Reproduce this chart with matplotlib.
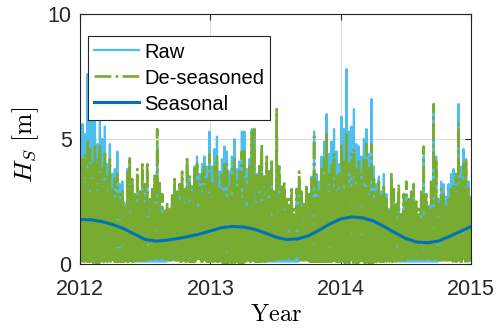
import numpy as np
import matplotlib
matplotlib.use("Agg")
import matplotlib.pyplot as plt

# weekly peak wave heights [m] (2012-2015)
raw_peak = [4.0, 5.6, 5.2, 7.6, 6.5, 5.8, 6.0, 4.8, 6.2, 5.0,
            5.5, 4.0, 4.8, 3.6, 3.8, 4.5, 3.2, 3.3, 2.4, 3.8,
            4.2, 3.2, 2.7, 3.5, 2.7, 3.7, 2.8, 3.6, 2.2, 2.6,
            3.1, 4.9, 2.8, 2.3, 1.8, 2.0, 1.6, 2.4, 3.0, 2.6,
            2.9, 3.4, 2.8, 4.1, 3.4, 3.1, 3.9, 4.3, 3.6, 4.0,
            4.3, 3.9, 5.3, 3.9, 4.6, 5.1, 3.7, 4.2, 4.7, 4.5,
            3.7, 4.3, 5.0, 3.8, 4.1, 5.3, 5.3, 3.8, 4.2, 5.4,
            5.4, 3.6, 3.9, 4.6, 3.3, 4.0, 3.5, 3.9, 2.7, 5.8,
            3.6, 2.7, 2.8, 2.1, 2.1, 2.5, 1.7, 2.5, 3.3, 2.6,
            2.2, 3.0, 2.7, 3.5, 5.3, 3.6, 3.3, 4.3, 4.9, 6.0,
            4.4, 4.9, 5.4, 4.5, 4.0, 5.9, 5.4, 7.8, 5.3, 5.5,
            6.2, 4.8, 4.7, 4.3, 5.0, 5.4, 4.4, 6.6, 3.9, 3.2,
            3.5, 2.9, 3.6, 2.8, 2.2, 3.4, 2.7, 2.0, 2.8, 1.6,
            2.3, 2.8, 2.1, 2.4, 2.7, 2.0, 1.7, 2.6, 4.3, 2.5,
            2.2, 3.3, 6.3, 4.3, 2.6, 3.3, 3.2, 2.7, 3.2, 3.6,
            3.8, 3.3, 6.4, 3.9, 4.6, 4.2, 3.3]

des_peak = [3.5, 4.2, 4.4, 5.0, 4.6, 4.0, 4.7, 4.2, 4.8, 3.8,
            4.5, 3.5, 4.2, 3.0, 3.4, 3.6, 2.8, 3.0, 2.2, 3.7,
            4.3, 3.4, 2.9, 3.8, 3.0, 4.1, 3.2, 4.1, 2.6, 3.0,
            3.6, 5.4, 3.3, 2.8, 2.2, 2.4, 2.0, 2.8, 3.4, 2.9,
            3.2, 3.7, 3.0, 4.3, 3.5, 3.1, 3.8, 4.0, 3.3, 3.6,
            3.9, 3.4, 4.4, 3.2, 3.9, 4.3, 3.0, 3.6, 4.1, 4.0,
            3.2, 3.8, 4.2, 3.3, 3.7, 4.5, 4.6, 3.4, 3.9, 5.3,
            5.4, 3.6, 4.0, 4.8, 3.5, 4.3, 3.8, 4.2, 3.0, 6.2,
            4.0, 3.1, 3.3, 2.6, 2.6, 3.0, 2.2, 3.0, 3.7, 2.9,
            2.4, 3.2, 2.8, 3.4, 5.1, 3.3, 2.9, 3.8, 4.2, 5.2,
            3.6, 4.0, 4.4, 3.5, 3.6, 4.8, 4.2, 5.2, 4.0, 4.4,
            4.6, 3.8, 4.1, 3.6, 4.3, 4.8, 3.9, 4.8, 3.4, 3.0,
            3.3, 2.8, 3.1, 2.6, 2.2, 3.6, 3.0, 2.4, 3.2, 2.0,
            2.8, 3.3, 2.6, 2.9, 3.2, 2.5, 2.2, 3.0, 4.7, 2.8,
            2.4, 3.4, 6.4, 4.2, 2.4, 3.0, 2.8, 2.2, 2.6, 3.0,
            3.2, 3.6, 5.6, 3.4, 4.0, 4.2, 3.1]

# monthly typical upper level of the dense body [m]
raw_body = [3.2, 3.2, 2.9, 2.5, 2.0, 1.6, 1.4, 1.5, 1.8, 2.1, 2.3, 2.5,
            2.8, 2.9, 2.8, 2.4, 2.0, 1.7, 1.4, 1.5, 1.8, 2.2, 2.7, 3.1,
            3.4, 3.4, 3.2, 2.7, 2.1, 1.6, 1.3, 1.3, 1.5, 1.9, 2.4, 2.7]
des_body = [2.8, 2.8, 2.6, 2.3, 2.0, 1.9, 1.9, 2.0, 2.2, 2.4, 2.5, 2.6,
            2.7, 2.7, 2.6, 2.3, 2.0, 1.9, 1.8, 1.9, 2.2, 2.5, 2.7, 2.8,
            2.9, 2.8, 2.7, 2.4, 2.0, 1.8, 1.8, 1.8, 2.0, 2.3, 2.6, 2.7]

# monthly minima [m]
raw_min = [0.2, 0.2, 0.2, 0.15, 0.15, 0.1, 0.1, 0.1, 0.15, 0.15, 0.2, 0.2,
           0.2, 0.2, 0.2, 0.15, 0.1, 0.1, 0.1, 0.1, 0.15, 0.2, 0.2, 0.2,
           0.2, 0.2, 0.2, 0.15, 0.15, 0.1, 0.1, 0.1, 0.1, 0.15, 0.15, 0.2]
des_min = [0.1, 0.05, 0.1, 0.1, 0.1, 0.15, 0.2, 0.2, 0.15, 0.1, 0.1, 0.1,
           0.1, 0.05, 0.05, 0.1, 0.1, 0.15, 0.2, 0.2, 0.15, 0.1, 0.1, 0.1,
           0.05, 0.05, 0.05, 0.1, 0.1, 0.15, 0.2, 0.2, 0.2, 0.15, 0.1, 0.1]

# seasonal component, monthly
seasonal = [1.78, 1.77, 1.70, 1.58, 1.42, 1.20, 0.98, 0.92, 0.95, 1.02, 1.10, 1.20,
            1.32, 1.45, 1.50, 1.48, 1.40, 1.25, 1.08, 0.98, 1.00, 1.12, 1.35, 1.60,
            1.80, 1.88, 1.85, 1.72, 1.50, 1.25, 1.02, 0.88, 0.85, 0.92, 1.10, 1.30,
            1.50]


def zigzag(peaks, body, mins):
    """peak / trough / body / trough per week so it looks like the dense record"""
    n = len(peaks)
    wk = 3.0 / n
    xs, ys = [], []
    for i, p in enumerate(peaks):
        mo = min(int(i * 36 / n), 35)
        for k, v in enumerate([p, mins[mo], body[mo], mins[mo]]):
            xs.append(2012 + (i + 0.25 * k) * wk)
            ys.append(v)
    return np.array(xs), np.array(ys)


x_raw, y_raw = zigzag(raw_peak, raw_body, raw_min)
x_des, y_des = zigzag(des_peak, des_body, des_min)
x_sea = 2012 + np.arange(len(seasonal)) / 12.0

plt.rcParams['font.family'] = ['Liberation Sans', 'DejaVu Sans']
plt.rcParams['mathtext.fontset'] = 'cm'

fig = plt.figure(figsize=(4.98, 3.32), dpi=100)
ax = fig.add_axes([0.1606, 0.2048, 0.7852, 0.753])

ax.plot(x_raw, y_raw, color='#4DBEEE', lw=1.6, label='Raw')
ax.plot(x_des, y_des, color='#77AC30', lw=1.9, ls='-.', label='De-seasoned')
ax.plot(x_sea, seasonal, color='#0072BD', lw=2.2, label='Seasonal')

ax.set_xlim(2012, 2015)
ax.set_ylim(0, 10)
ax.set_xticks([2012, 2013, 2014, 2015])
ax.set_yticks([0, 5, 10])
ax.grid(True, color='#dcdcdc', lw=0.8)
ax.set_axisbelow(True)
ax.tick_params(direction='in', top=True, right=True, labelsize=15.5,
               colors='#262626', length=4)
ax.tick_params(axis='x', pad=11)
ax.tick_params(axis='y', pad=6)
for s in ax.spines.values():
    s.set_color('#262626')
    s.set_linewidth(0.8)

ax.set_xlabel(r'$\mathrm{Year}$', fontsize=17.5)
ax.xaxis.set_label_coords(0.5, -0.16)
ax.set_ylabel(r'$H_S\ [\mathrm{m}]$', fontsize=18.5)
ax.yaxis.set_label_coords(-0.1, 0.476)

leg = ax.legend(loc='upper left', bbox_to_anchor=(0.02, 0.912), fontsize=14.5,
                fancybox=False, framealpha=1, edgecolor='#262626',
                borderaxespad=0, handlelength=2.25, handleheight=0.95,
                labelspacing=0.32, borderpad=0.3, handletextpad=0.25)
leg.get_frame().set_linewidth(0.8)

fig.savefig('out.png', dpi=100)
